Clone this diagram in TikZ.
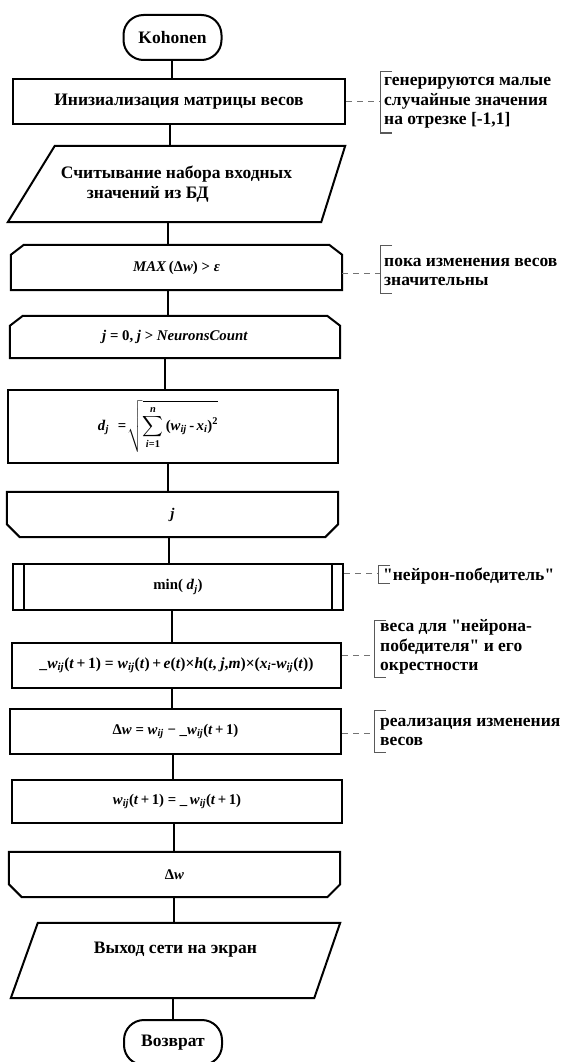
\documentclass[tikz,border=0pt]{standalone}
\usepackage{fontspec}
\usepackage{amsmath}
\setmainfont{Liberation Serif}[Ligatures=TeXOff]
\usetikzlibrary{calc}
\newcommand\mainsz{\fontsize{17.5}{19.5}\selectfont\bfseries}
\newcommand\formsz{\fontsize{14.8}{16}\selectfont\bfseries}
\newcommand\vi[1]{\textit{#1}}
\newcommand\loopopen[1]{\draw[frame] ([yshift=-10pt]#1.north west) -- ([xshift=13pt]#1.north west) -- ([xshift=-13pt]#1.north east) -- ([yshift=-10pt]#1.north east) -- (#1.south east) -- (#1.south west) -- cycle;}
\newcommand\loopclose[1]{\draw[frame] (#1.north west) -- (#1.north east) -- ([yshift=13pt]#1.south east) -- ([xshift=-13pt]#1.south east) -- ([xshift=13pt]#1.south west) -- ([yshift=13pt]#1.south west) -- cycle;}
\newcommand\link[3]{\coordinate (tmpx) at (#3,0); \draw[conn] (#1.south -| tmpx) -- (#2.north -| tmpx);}
\tikzset{
  frame/.style={line width=2pt, line join=miter},
  conn/.style={line width=2pt},
  blk/.style n args={2}{inner sep=0pt, minimum width=#1, minimum height=#2, align=center},
  rbox/.style n args={2}{blk={#1}{#2}, draw, line width=2pt},
  term/.style={draw, line width=2pt, rounded corners=20pt, minimum width=98pt, minimum height=45pt, inner sep=0pt},
  brk/.style={line width=1pt, draw=black!65},
  dsh/.style={line width=1pt, draw=black!55, dash pattern=on 6pt off 5pt},
  note/.style={inner sep=0pt, align=left, anchor=west}
}
\begin{document}
\begin{tikzpicture}[x=1pt, y=-1pt, font=\mainsz]
\useasboundingbox (0,0) rectangle (565,1062);
\clip (0,0) rectangle (565,1062);
\fill[white] (0,0) rectangle (565,1062);

% main flow
\node[term] (kohonen) at (172.5,37.5) {Kohonen};
\node[rbox={332pt}{45pt}] (init) at (179,102) {Инизиализация матрицы весов};
\node[blk={337pt}{76pt}, align=left] (read) at (176.5,184) {Считывание набора входных\\\hspace*{26pt}значений из БД};
\draw[frame] ([xshift=47pt]read.north west) -- (read.north east) -- ([xshift=-24pt]read.south east) -- (read.south west) -- cycle;

\node[blk={331pt}{45pt}, font=\formsz] (maxn) at (176.5,267.5) {\vi{MAX}\,(Δ\vi{w}) > \vi{ε}};
\loopopen{maxn}
\node[blk={330pt}{42pt}, font=\formsz] (jzero) at (175,337) {\vi{j} = 0, \vi{j} > \vi{NeuronsCount}};
\loopopen{jzero}

\node[rbox={330pt}{73pt}, font=\formsz] (dist) at (173,426.5) {\hspace*{-30pt}\vi{d}\textsubscript{\vi{j}}\hspace{9pt}=\hspace{1pt}$\sqrt{\displaystyle\sum_{\text{\bfseries\itshape i\upshape=1}}^{\text{\bfseries\itshape n}}\text{\bfseries(\itshape w\textsubscript{ij}\upshape\,-\,\itshape x\textsubscript{i}\upshape)\textsuperscript{2}}}$};

\node[blk={331pt}{45pt}, font=\formsz] (jend) at (172.5,514.5) {\vi{j}};
\loopclose{jend}

\node[rbox={330pt}{46pt}, font=\formsz] (minn) at (178,587) {min( \vi{d}\textsubscript{\vi{j}})};
\draw[frame] ([xshift=12pt]minn.north west) -- ([xshift=12pt]minn.south west);
\draw[frame] ([xshift=-12pt]minn.north east) -- ([xshift=-12pt]minn.south east);

\node[rbox={329pt}{45pt}, font=\formsz] (upd) at (176.5,665.5) {\resizebox{274pt}{!}{\_\vi{w}\textsubscript{\vi{ij}}(\vi{t}\,+\,1) = \vi{w}\textsubscript{\vi{ij}}(\vi{t})\,+\,\vi{e}(\vi{t})×\vi{h}(\vi{t}, \vi{j},\vi{m})×(\vi{x}\textsubscript{\vi{i}}-\vi{w}\textsubscript{\vi{ij}}(\vi{t}))}};
\node[rbox={331pt}{45pt}, font=\formsz] (delta) at (175.5,731.5) {Δ\vi{w} = \vi{w}\textsubscript{\vi{ij}} − \_\vi{w}\textsubscript{\vi{ij}}(\vi{t}\,+\,1)};
\node[rbox={330pt}{43pt}, font=\formsz] (assign) at (177,801.5) {\vi{w}\textsubscript{\vi{ij}}(\vi{t}\,+\,1) = \_\,\vi{w}\textsubscript{\vi{ij}}(\vi{t}\,+\,1)};

\node[blk={331pt}{45pt}, font=\formsz] (dwend) at (174.5,874.5) {Δ\vi{w}};
\loopclose{dwend}

\node[blk={329pt}{75pt}] (out) at (175.5,960.5) {Выход сети на экран\\[6pt]};
\draw[frame] ([xshift=27pt]out.north west) -- (out.north east) -- ([xshift=-26pt]out.south east) -- (out.south west) -- cycle;
\node[term] (ret) at (173,1042.5) {Возврат};

% connectors
\link{kohonen}{init}{172}
\link{init}{read}{170}
\link{read}{maxn}{168}
\link{maxn}{jzero}{168}
\link{jzero}{dist}{165}
\link{dist}{jend}{168}
\link{jend}{minn}{169}
\link{minn}{upd}{172}
\link{upd}{delta}{172}
\link{delta}{assign}{173}
\link{assign}{dwend}{173.5}
\link{dwend}{out}{174}
\link{out}{ret}{173}

% annotations
\coordinate (b1) at (380,102);
\draw[dsh] (init.east |- b1) -- (b1);
\draw[brk] (392,72) -- (380,72) -- (380,133) -- (392,133);
\node[note] (n1) at (384,103) {генерируются малые\\случайные значения\\на отрезке [-1,1]};

\coordinate (b2) at (380,273);
\draw[dsh] (maxn.east |- b2) -- (b2);
\draw[brk] (392,245) -- (380,245) -- (380,293) -- (392,293);
\node[note] (n2) at (384,272) {пока изменения весов\\значительны};

\coordinate (b3) at (378,573);
\draw[dsh] (minn.east |- b3) -- (b3);
\draw[brk] (390,565) -- (378,565) -- (378,583) -- (390,583);
\node[note] (n3) at (383,576) {"нейрон-победитель"};

\coordinate (b4) at (374,655);
\draw[dsh] (upd.east |- b4) -- (b4);
\draw[brk] (386,620) -- (374,620) -- (374,677) -- (386,677);
\node[note] (n4) at (380,647) {веса для "нейрона-\\победителя" и его\\окрестности};

\coordinate (b5) at (374,733);
\draw[dsh] (delta.east |- b5) -- (b5);
\draw[brk] (386,710) -- (374,710) -- (374,752) -- (386,752);
\node[note] (n5) at (380,732) {реализация изменения\\весов};
\end{tikzpicture}
\end{document}
